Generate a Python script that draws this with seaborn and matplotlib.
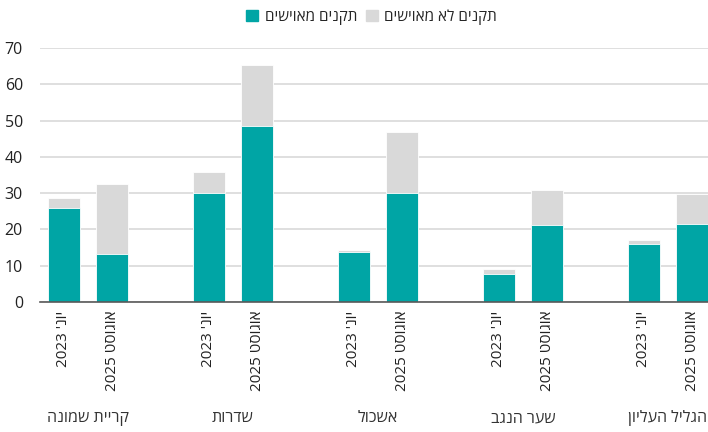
import pandas as pd
import seaborn as sns
import matplotlib.pyplot as plt
import matplotlib.transforms as mtransforms
from matplotlib.patches import Patch

# data
regions = ['קריית שמונה', 'שדרות', 'אשכול', 'שער הנגב', 'הגליל העליון']
periods = ["יונ' 2023", 'אוגוסט 2025']
filled = [26.0, 13.2, 30.0, 48.5, 13.8, 30.0, 7.7, 21.2, 16.0, 21.5]
unfilled = [2.7, 19.3, 5.8, 16.8, 0.5, 16.8, 1.4, 9.7, 1.0, 8.2]
series_names = ['תקנים מאוישים', 'תקנים לא מאוישים']

teal = '#00A5A5'
grey = '#D9D9D9'


def vis(s):
    # matplotlib has no bidi, so flip hebrew words by hand
    out = []
    for w in reversed(s.split(' ')):
        if any('\u0590' <= c <= '\u05FF' for c in w):
            out.append(w[::-1])
        else:
            out.append(w)
    return ' '.join(out)


sns.set_style('white')
plt.rcParams['font.family'] = ['Open Sans', 'DejaVu Sans']

pos = []
labels = []
for i in range(len(regions)):
    for j in range(len(periods)):
        pos.append(i * 3 + j)
        labels.append(vis(periods[j]))

df = pd.DataFrame({'pos': pos, 'filled': filled, 'unfilled': unfilled})
df['total'] = df['filled'] + df['unfilled']

fig = plt.figure(figsize=(7.08, 4.32), dpi=100)
ax = fig.add_axes([0.056, 0.301, 0.944, 0.588])

sns.barplot(data=df, x='pos', y='total', native_scale=True, color=grey,
            saturation=1, width=0.66, edgecolor='white', linewidth=0.6, ax=ax)
sns.barplot(data=df, x='pos', y='filled', native_scale=True, color=teal,
            saturation=1, width=0.66, edgecolor='white', linewidth=0.6, ax=ax)

ax.set_xlim(-0.5, 13.33)
ax.set_ylim(0, 70)
ax.set_yticks(range(0, 71, 10))
ax.yaxis.grid(True, color='#D9D9D9', linewidth=1.2)
ax.set_axisbelow(True)
ax.set_xticks(pos)
ax.set_xticklabels(labels, rotation=90, fontsize=11)
ax.tick_params(axis='both', length=0, colors='#222222')
ax.tick_params(axis='y', labelsize=11.5, pad=12)
ax.tick_params(axis='x', pad=6)
ax.set_xlabel('')
ax.set_ylabel('')
for s in ['top', 'right', 'left']:
    ax.spines[s].set_visible(False)
ax.spines['bottom'].set_color('#595959')
ax.spines['bottom'].set_linewidth(1.2)

trans = mtransforms.blended_transform_factory(ax.transData, fig.transFigure)
for i, r in enumerate(regions):
    fig.text(i * 3 + 0.5, 0.032, vis(r), transform=trans, ha='center',
             va='center', fontsize=11.5, color='#333333')

handles = [Patch(color=teal), Patch(color=grey)]
fig.legend(handles, [vis(series_names[0]), vis(series_names[1])], ncol=2,
           loc='upper center', bbox_to_anchor=(0.525, 1.01), frameon=False,
           markerfirst=True, handlelength=0.8, handleheight=0.8,
           handletextpad=0.4, columnspacing=0.6, fontsize=11)

fig.savefig('out.png', dpi=100)
